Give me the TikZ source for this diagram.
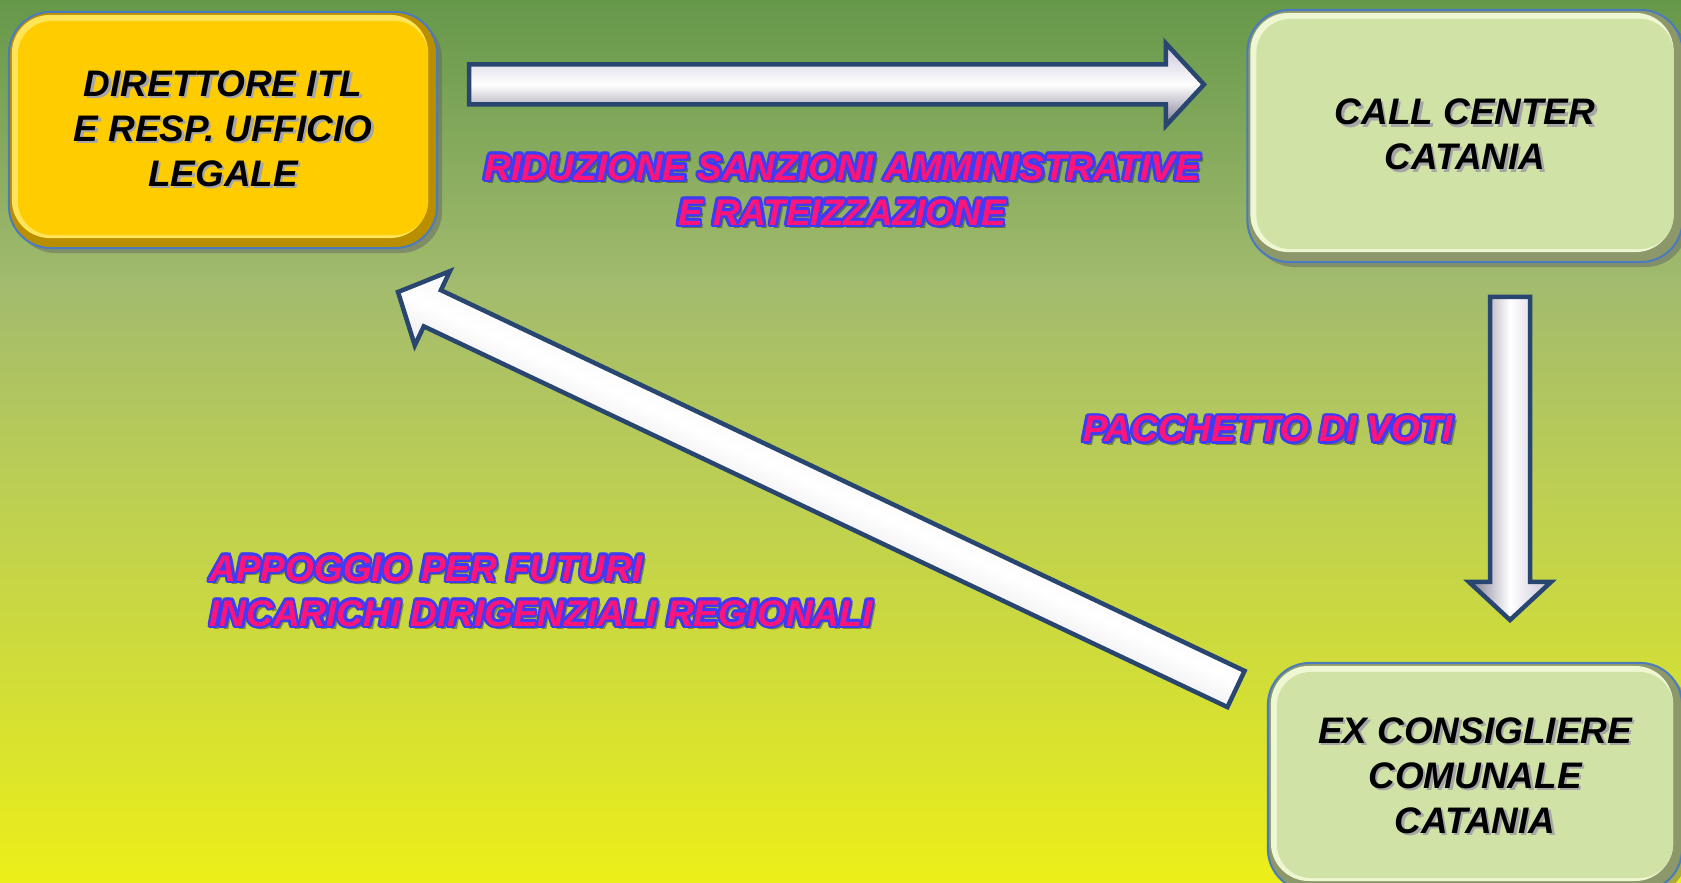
\documentclass[tikz,border=0pt]{standalone}
\usepackage{fontspec}
\setmainfont{Liberation Sans}
\usetikzlibrary{calc,shadows}

\definecolor{bgtop}{HTML}{66984A}
\definecolor{bghigh}{HTML}{A2BB6E}
\definecolor{bgmid}{HTML}{BDCF52}
\definecolor{bglow}{HTML}{D2DE36}
\definecolor{bgbot}{HTML}{ECEF18}
\definecolor{yellowbase}{HTML}{FFCC00}
\definecolor{yellowlight}{HTML}{FFE45A}
\definecolor{yellowdark}{HTML}{B98F00}
\definecolor{greenbase}{HTML}{D0E2A6}
\definecolor{greenlight}{HTML}{EEF7D2}
\definecolor{greendark}{HTML}{8C976A}
\definecolor{boxedge}{HTML}{4B7BBE}
\definecolor{arrowedge}{HTML}{284670}
\definecolor{arrowlight}{HTML}{C9C3D6}
\definecolor{arrowdark}{HTML}{7E7890}
\definecolor{lblpink}{HTML}{FF1478}
\definecolor{lblblue}{HTML}{3D3DF5}

\pgfdeclareverticalshading{meadow}{100bp}{color(0bp)=(bgbot); color(25bp)=(bgbot);
  color(36bp)=(bglow); color(47bp)=(bgmid); color(59bp)=(bghigh); color(75bp)=(bgtop); color(100bp)=(bgtop)}

\tikzset{
  every node/.style={font=\fontsize{10.5}{12.8}\selectfont\bfseries\itshape},
  bevel/.style n args={3}{draw=boxedge, line width=0.02cm, rounded corners=0.42cm,
    fill=#3, align=center, inner sep=0pt,
    drop shadow={shadow xshift=0.05cm, shadow yshift=-0.05cm, opacity=.5, fill=black!60},
    path picture={
      \fill[#2, rounded corners=0.38cm] ($(path picture bounding box.north west)+(3,3)$)
        rectangle ($(path picture bounding box.south east)+(-9,-10)$);
      \fill[#1, rounded corners=0.34cm] ($(path picture bounding box.north west)+(9,9)$)
        rectangle ($(path picture bounding box.south east)+(-9,-13)$);
    }},
  bigarrow/.style={draw=arrowedge, line width=0.045cm, line join=miter,
    top color=arrowlight, bottom color=arrowdark, middle color=white},
  lbl/.style={align=center, inner sep=0pt}
}

% grey shadow under a line of box text
\newcommand\shadowed[1]{\leavevmode\rlap{\hspace{0.7pt}\raisebox{-0.7pt}{\color{black!35}#1}}#1}
% block arrow from #1 to #2, shading turned by #3
\newcommand\bigarrow[3]{%
  \coordinate (hb) at ($(#2)!0.38cm!(#1)$);
  \draw[bigarrow, shading angle=#3] ($(#1)!0.2cm!90:(#2)$) -- ($(hb)!0.2cm!90:(#2)$)
    -- ($(hb)!0.41cm!90:(#2)$) -- (#2) -- ($(hb)!0.41cm!-90:(#2)$)
    -- ($(hb)!0.2cm!-90:(#2)$) -- ($(#1)!0.2cm!-90:(#2)$) -- cycle;
}
% pink text with blue outline and shadow
\newcommand\glowtext[4][]{%
  \node[lbl, #1, text=black, opacity=.35] at ($(#3)+(3.5,3.5)$) {#4};
  \foreach \a in {0,30,...,330}
    \node[lbl, #1, text=lblblue] at ($(#3)+(\a:2.6)$) {#4};
  \node[lbl, #1, text=lblpink] (#2) at (#3) {#4};
}

\begin{document}
\begin{tikzpicture}[x=0.01cm, y=-0.01cm]
\useasboundingbox (0,0) rectangle (1681,883);
\clip (0,0) rectangle (1681,883);
\shade[shading=meadow] (0,0) rectangle (1681,883);

% boxes
\node[bevel={yellowbase}{yellowlight}{yellowdark}, minimum width=4.28cm, minimum height=2.36cm]
  (dir) at (223,130) {\shadowed{DIRETTORE ITL}\\ \shadowed{E RESP. UFFICIO}\\ \shadowed{LEGALE}};
\node[bevel={greenbase}{greenlight}{greendark}, minimum width=4.35cm, minimum height=2.52cm]
  (call) at (1465,136) {\shadowed{CALL CENTER}\\ \shadowed{CATANIA}};
\node[bevel={greenbase}{greenlight}{greendark}, minimum width=4.14cm, minimum height=2.28cm]
  (cons) at (1475,777) {\shadowed{EX CONSIGLIERE}\\ \shadowed{COMUNALE}\\ \shadowed{CATANIA}};

% arrows
\coordinate (dirout) at (469,84.5);
\coordinate (callin) at (1204,84.5);
\coordinate (callout) at (1510,297);
\coordinate (consin) at (1510,620);
\coordinate (consout) at (1236,689);
\coordinate (dirin) at (398,292);
\bigarrow{dirout}{callin}{0}
\bigarrow{callout}{consin}{-90}
\bigarrow{consout}{dirin}{-25}

% labels
\glowtext{ridlbl}{842,190}{RIDUZIONE SANZIONI AMMINISTRATIVE\\ E RATEIZZAZIONE}
\glowtext{votilbl}{1268,429}{PACCHETTO DI VOTI}
\glowtext[anchor=west, align=left]{applbl}{209,591}{APPOGGIO PER FUTURI\\ INCARICHI DIRIGENZIALI REGIONALI}
\end{tikzpicture}
\end{document}
